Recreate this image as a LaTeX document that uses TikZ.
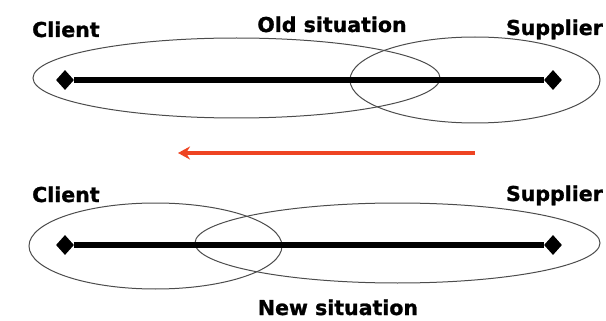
\documentclass[tikz,border=0pt]{standalone}
\usepackage{fontspec}
\setmainfont{DejaVu Sans}[BoldFeatures={FakeBold=1.2}]
\usetikzlibrary{shapes.geometric,arrows.meta}
\definecolor{arrowred}{HTML}{EE4422}
\begin{document}
\begin{tikzpicture}[x=1pt,y=-1pt,
  lbl/.style={font=\fontsize{20.5}{22}\selectfont\bfseries, inner sep=0},
  zone/.style={ellipse, draw=black!70, line width=1pt, inner sep=0},
  endpt/.style={diamond, fill=black, inner sep=0, minimum width=18pt, minimum height=20pt},
  bar/.style={line width=5.5pt, black}]
\useasboundingbox (0,0) rectangle (606,321);
% top row
\node[zone, minimum width=407pt, minimum height=80pt] (oc) at (236.5,78) {};
\node[zone, minimum width=250pt, minimum height=86pt] (os) at (475,80) {};
\node[endpt] (c1) at (65,80) {};
\node[endpt] (s1) at (553,80) {};
\draw[bar] (c1) -- (s1);
\node[lbl, anchor=base west] (tc1) at (32,37) {Client};
\node[lbl, anchor=base] (told) at (332,32) {Old situation};
\node[lbl, anchor=base east] (ts1) at (603,35) {Supplier};
% arrow
\coordinate (ars) at (475,153);
\coordinate (are) at (178,153);
\draw[arrowred, line width=3.5pt, -{Stealth[length=12pt,width=13pt]}] (ars) -- (are);
% bottom row
\node[zone, minimum width=253pt, minimum height=86pt] (nc) at (155.5,246) {};
\node[zone, minimum width=405pt, minimum height=80pt] (ns) at (397.5,243) {};
\node[endpt] (c2) at (65,245) {};
\node[endpt] (s2) at (553,245) {};
\draw[bar] (c2) -- (s2);
\node[lbl, anchor=base west] (tc2) at (32,202) {Client};
\node[lbl, anchor=base east] (ts2) at (603,201) {Supplier};
\node[lbl, anchor=base] (tnew) at (338,315) {New situation};
\end{tikzpicture}
\end{document}
